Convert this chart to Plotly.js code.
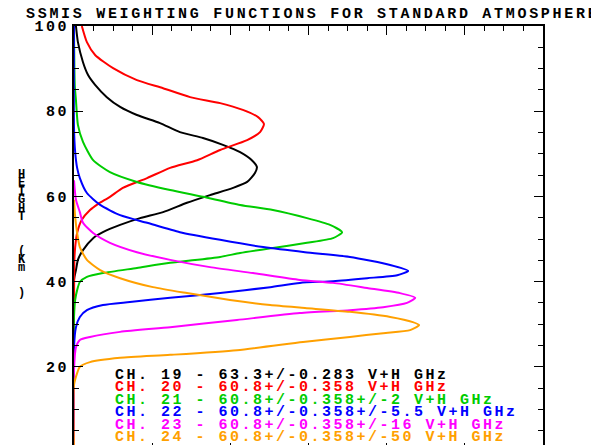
<!DOCTYPE html>
<html>
<head>
<meta charset="utf-8">
<script src="https://cdn.plot.ly/plotly-3.0.1.min.js"></script>
<style>
  html, body { margin: 0; padding: 0; overflow: hidden; background: #fff; }
  #chart { width: 591px; height: 480px; }
  .annotation-text, .ytick text, .xtick text { letter-spacing: 2.5px; }
  .gtitle { letter-spacing: 2.7px; }
</style>
</head>
<body>
<div id="chart"></div>
<script>
// ---- data (height in km, weighting function value) ----
const ch19_h = [100,96.2,91.5,88.5,86.2,83.3,81.0,79.1,77.2,75.1,73.7,72.1,70.4,68.5,66.9,65.5,63.4,62.0,60.3,58.5,56.3,54.9,53.3,51.6,50.2,47.4,45.1,42.7,40.4,0];
const ch19_w = [0.005,0.010,0.023,0.036,0.054,0.084,0.118,0.161,0.220,0.271,0.330,0.381,0.425,0.455,0.468,0.463,0.443,0.407,0.348,0.289,0.228,0.169,0.118,0.074,0.049,0.023,0.010,0.005,0,0];

const ch20_h = [100,96.2,93.2,90.1,87.3,85.4,83.3,81.9,80.3,78.6,77.0,75.1,73.2,70.9,68.5,66.7,64.3,62.0,59.9,58.2,56.8,54.5,51.4,48.1,45.1,0];
const ch20_w = [0.020,0.033,0.054,0.100,0.161,0.228,0.297,0.374,0.432,0.471,0.486,0.476,0.443,0.374,0.315,0.246,0.187,0.125,0.092,0.061,0.041,0.020,0.008,0.003,0.001,0];

const ch21_h = [100,86.0,82.6,76.8,72.8,68.5,65.7,63.4,61.5,59.9,58.0,56.8,54.9,53.3,51.6,50.2,49.1,47.9,46.7,45.8,44.4,43.2,42.0,41.1,39.9,38.0,35.7,31.7,0];
const ch21_w = [0,0.002,0.005,0.010,0.023,0.049,0.092,0.161,0.246,0.330,0.425,0.509,0.596,0.655,0.686,0.663,0.596,0.509,0.425,0.374,0.246,0.161,0.074,0.033,0.015,0.008,0.003,0,0];

const ch22_h = [100,76.1,70.4,66.7,64.3,60.8,58.0,55.6,53.8,51.6,49.8,48.1,46.9,45.8,43.9,42.5,41.5,40.8,40.1,39.7,38.7,37.3,36.2,35.2,34.5,33.3,31.7,29.3,24.6,0];
const ch22_w = [0,0,0.003,0.008,0.015,0.033,0.067,0.118,0.187,0.271,0.374,0.484,0.591,0.706,0.809,0.855,0.827,0.750,0.663,0.578,0.502,0.374,0.246,0.143,0.074,0.033,0.015,0.005,0,0];

const ch23_h = [63.8,59.2,56.3,53.8,51.4,49.1,46.9,45.1,43.4,42.0,40.4,39.7,38.5,37.3,36.2,35.0,34.0,33.3,32.6,31.0,29.3,28.2,27.0,26.3,24.6,19.2,0];
const ch23_w = [0,0.005,0.015,0.023,0.049,0.092,0.161,0.246,0.348,0.458,0.578,0.663,0.750,0.834,0.873,0.852,0.791,0.706,0.578,0.417,0.246,0.118,0.041,0.015,0.005,0,0];

const ch24_h = [59.2,55.2,51.4,48.1,45.1,42.7,40.8,38.7,37.3,35.7,34.5,33.8,32.9,31.7,30.5,29.8,28.6,27.9,27.0,25.8,23.9,22.8,22.1,21.1,20.0,18.5,15.7,0];
const ch24_w = [0,0.003,0.008,0.015,0.033,0.067,0.118,0.202,0.289,0.399,0.502,0.591,0.706,0.809,0.867,0.883,0.860,0.791,0.706,0.586,0.417,0.246,0.118,0.041,0.015,0.008,0,0];

const channelLabels = [
  'CH. 19 - 63.3+/-0.283 V+H GHz',
  'CH. 20 - 60.8+/-0.358 V+H GHz',
  'CH. 21 - 60.8+/-0.358+/-2 V+H GHz',
  'CH. 22 - 60.8+/-0.358+/-5.5 V+H GHz',
  'CH. 23 - 60.8+/-0.358+/-16 V+H GHz',
  'CH. 24 - 60.8+/-0.358+/-50 V+H GHz'
];
const channelColors = ['#000000','#ff0000','#00cc00','#0000ff','#ff00ff','#ffa000'];
// stacked y-axis title, one character per line ('' = empty line)
const yTitleLines = ['H','E','I','G','H','T','','','','(','K','m','','',')'];
const yTickVals = [20, 40, 60, 80, 100];
const titleText = 'SSMIS WEIGHTING FUNCTIONS FOR STANDARD ATMOSPHERE';

// ---- layout helpers (pixel -> paper) ----
const W = 591, H = 480;
const L = 74, R = 48, T = 26, B = 28;
const pw = W - L - R, ph = H - T - B;
const px2x = p => (p - L) / pw;
const py2y = p => (H - B - p) / ph;

const series = [[ch19_w,ch19_h],[ch20_w,ch20_h],[ch21_w,ch21_h],[ch22_w,ch22_h],[ch23_w,ch23_h],[ch24_w,ch24_h]];
const traces = series.map((s, i) => ({
  x: s[0], y: s[1], type: 'scatter', mode: 'lines',
  line: {color: channelColors[i], width: 2, shape: 'spline', smoothing: 0.6},
  hoverinfo: 'skip', showlegend: false
}));

const FONT = '"Liberation Mono", "Courier New", monospace';
const annotations = [];
channelLabels.forEach((t, i) => {
  annotations.push({
    text: t, xref: 'paper', yref: 'paper', x: px2x(113), y: py2y(375 + 12.5 * i),
    xanchor: 'left', yanchor: 'middle', showarrow: false,
    font: {family: FONT, size: 15, color: channelColors[i], weight: 'bold'}
  });
});
// one annotation, small base size sets the tight line pitch, spans set glyph size
const yTitleText = yTitleLines
  .map(c => '<span style="font-size:12px">' + (c === '' ? '\u00a0' : c) + '</span>')
  .join('<br>');
annotations.push({
  text: yTitleText, xref: 'paper', yref: 'paper', x: px2x(23), y: py2y(234),
  xanchor: 'center', yanchor: 'middle', showarrow: false, borderpad: 0,
  font: {family: FONT, size: 6.5, color: '#000', weight: 'bold'}
});

const layout = {
  width: W, height: H,
  margin: {l: L, r: R, t: T, b: B, pad: 0},
  paper_bgcolor: '#fff', plot_bgcolor: '#fff',
  showlegend: false,
  title: {
    text: titleText, xref: 'container', yref: 'container',
    x: 26 / W, xanchor: 'left', y: 1 - 13 / H, yanchor: 'middle',
    font: {family: FONT, size: 15, color: '#000', weight: 'bold'}
  },
  xaxis: {
    range: [0, 1.2], dtick: 0.2, tick0: 0,
    showgrid: false, zeroline: false,
    showline: true, linecolor: '#000', linewidth: 2, mirror: 'ticks',
    ticks: 'inside', ticklen: 9, tickwidth: 1, tickcolor: '#000',
    minor: {dtick: 0.05, ticks: 'inside', ticklen: 5, tickwidth: 1, tickcolor: '#000', showgrid: false},
    showticklabels: false
  },
  yaxis: {
    range: [0, 100], tickmode: 'array', tickvals: yTickVals, ticktext: yTickVals.map(String),
    showgrid: false, zeroline: false,
    showline: true, linecolor: '#000', linewidth: 2, mirror: 'ticks',
    ticks: 'inside', ticklen: 9, tickwidth: 1, tickcolor: '#000',
    minor: {dtick: 5, ticks: 'inside', ticklen: 5, tickwidth: 1, tickcolor: '#000', showgrid: false},
    showticklabels: true, tickfont: {family: FONT, size: 15, color: '#000', weight: 'bold'}
  },
  annotations: annotations
};

Plotly.newPlot('chart', traces, layout, {staticPlot: true, displayModeBar: false});
</script>
</body>
</html>
